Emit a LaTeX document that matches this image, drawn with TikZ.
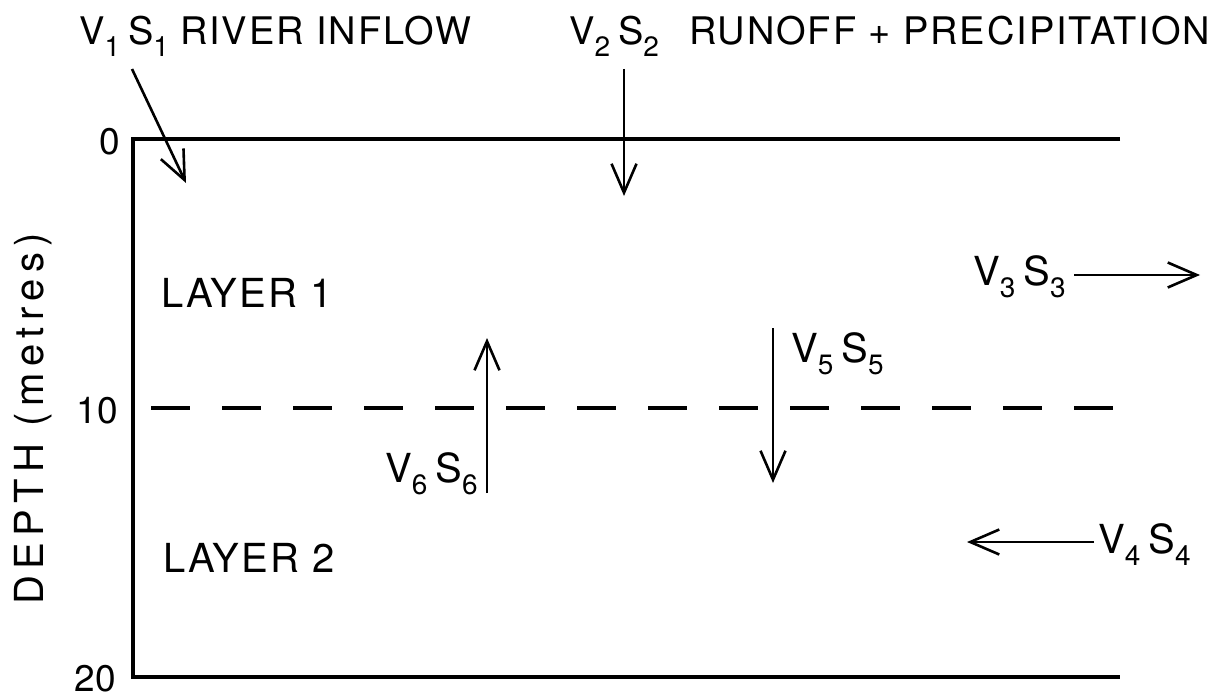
\documentclass[tikz,border=0pt]{standalone}
\usepackage{fontspec}
\setmainfont{TeX Gyre Heros}
\newfontfamily\lblfont[LetterSpace=5]{TeX Gyre Heros}
\newfontfamily\spacedfont[LetterSpace=16]{TeX Gyre Heros}
\usetikzlibrary{arrows.meta}
\newcommand\sub[1]{\raisebox{-12pt}{\fontsize{28}{30}\selectfont #1}}
\newcommand\flux[1]{V\sub{#1}\hspace{8pt}S\sub{#1}}

\begin{document}
\begin{tikzpicture}[x=1pt,y=-1pt,
  lbl/.style={inner sep=0pt,anchor=base west,font=\fontsize{38}{44}\lblfont},
  big/.style={lbl,font=\fontsize{40}{46}\lblfont},
  flx/.style={lbl,font=\fontsize{40}{46}\selectfont},
  num/.style={inner sep=0pt,anchor=east,font=\fontsize{37}{44}\selectfont},
  flow/.style={line width=2.6pt,-{Straight Barb[length=29pt,width=25pt]}}]
\useasboundingbox (0,0) rectangle (1225,698);

\coordinate (TL) at (133,139);
\coordinate (TR) at (1120,139);
\coordinate (BL) at (133,677);
\coordinate (BR) at (1120,677);
\coordinate (DL) at (151,408);
\coordinate (DR) at (1113,408);

% column of water
\draw[line width=3.6pt] (TR) -- (TL) -- (BL) -- (BR);
\draw[line width=3.4pt,dash pattern=on 39pt off 32pt] (DL) -- (DR);

\node[num] (d0) at (120,142) {0};
\node[num] (d10) at (118,411) {10};
\node[num] (d20) at (116,679) {20};
\node[inner sep=0pt,rotate=90,font=\fontsize{40}{46}\spacedfont] (depth) at (33,419) {DEPTH (metres)};

\node[big] (lay1) at (161,307) {LAYER 1};
\node[big] (lay2) at (163,572) {LAYER 2};

% fluxes
\node[lbl] (in1) at (79,45) {\flux{1}\hspace{11pt}RIVER INFLOW};
\node[lbl] (in2) at (569,45) {\flux{2}\hspace{30pt}RUNOFF + PRECIPITATION};
\node[flx] (f3) at (973,285) {\flux{3}};
\node[flx] (f4) at (1098,553) {\flux{4}};
\node[flx] (f5) at (791,362) {\flux{5}};
\node[flx] (f6) at (385,482) {\flux{6}};

\coordinate (a1) at (132,69);   \coordinate (b1) at (186,183);
\coordinate (a2) at (624,69);   \coordinate (b2) at (624,196);
\coordinate (a3) at (1074,275); \coordinate (b3) at (1200,275);
\coordinate (a4) at (1094,542); \coordinate (b4) at (967,542);
\coordinate (a5) at (773,328);  \coordinate (b5) at (773,483);
\coordinate (a6) at (487,493);  \coordinate (b6) at (487,338);

\draw[flow] (a1) -- (b1);
\draw[flow] (a2) -- (b2);
\draw[flow] (a3) -- (b3);
\draw[flow] (a4) -- (b4);
\draw[flow] (a5) -- (b5);
\draw[flow] (a6) -- (b6);
\end{tikzpicture}
\end{document}
